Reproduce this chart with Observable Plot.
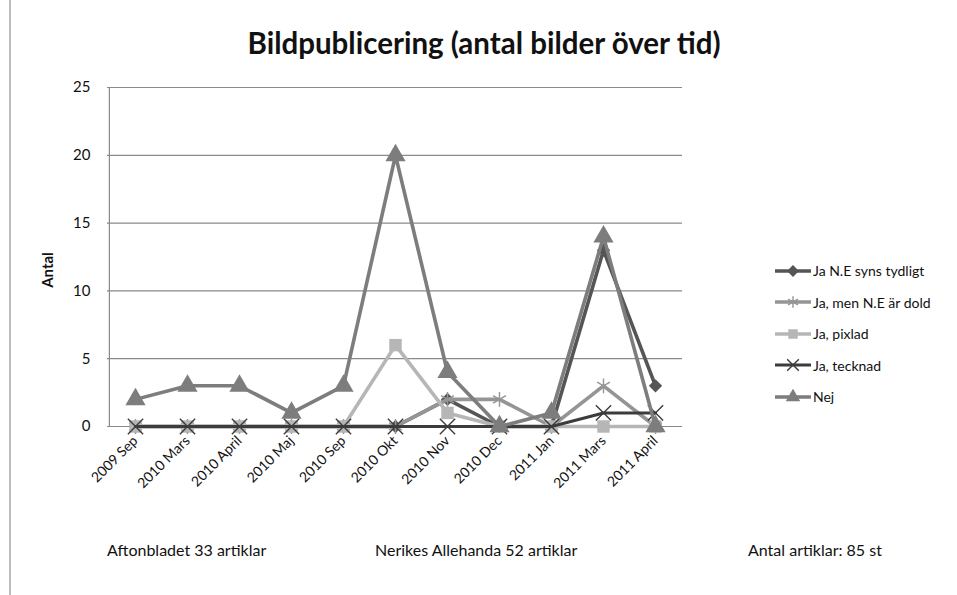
<!DOCTYPE html>
<html>
<head>
<meta charset="utf-8">
<script src="https://cdn.jsdelivr.net/npm/d3@7"></script>
<script src="https://cdn.jsdelivr.net/npm/@observablehq/plot@0.6"></script>
<style>
  html, body { margin: 0; padding: 0; background: #fff; }
  #wrap { position: relative; width: 957px; height: 595px; overflow: hidden; font-family: Lato, "Open Sans", sans-serif; }
  #border { position: absolute; left: 9px; top: 0; width: 2px; height: 595px; background: #bdbdbd; }
  #title { position: absolute; left: 0; width: 968px; top: 25px; text-align: center; font-weight: bold; font-size: 29.5px; color: #111; }
  #ylabel { position: absolute; left: 47px; top: 270px; transform: translate(-50%, -50%) rotate(-90deg); font-weight: bold; font-size: 15px; color: #111; }
  .foot { position: absolute; top: 540px; font-size: 16px; color: #111; }
  #legend { position: absolute; left: 775px; top: 255px; font-size: 14px; color: #111; }
  .li { display: flex; align-items: center; height: 31.5px; }
  .li svg { margin-right: 2px; }
</style>
</head>
<body>
<div id="wrap">
  <div id="border"></div>
  <div id="chart"></div>
  <div id="title">Bildpublicering (antal bilder över tid)</div>
  <div id="ylabel">Antal</div>
  <div id="legend"></div>
  <div class="foot" style="left:107px">Aftonbladet 33 artiklar</div>
  <div class="foot" style="left:375px">Nerikes Allehanda 52 artiklar</div>
  <div class="foot" style="left:748px">Antal artiklar: 85 st</div>
</div>
<script>
const categories = ["2009 Sep","2010 Mars","2010 April","2010 Maj","2010 Sep","2010 Okt","2010 Nov","2010 Dec","2011 Jan","2011 Mars","2011 April"];
const seriesNames = ["Ja N.E syns tydligt","Ja, men N.E är dold","Ja, pixlad","Ja, tecknad","Nej"];
const jaSyns    = [0,0,0,0,0,0,2,0,0,13,3];
const jaDold    = [0,0,0,0,0,0,2,2,0,3,0];
const jaPixlad  = [0,0,0,0,0,6,1,0,0,0,0];
const jaTecknad = [0,0,0,0,0,0,0,0,0,1,1];
const nej       = [2,3,3,1,3,20,4,0,1,14,0];
const yTicks = [0,5,10,15,20,25];

const seriesColors = ["#555555","#959595","#b6b6b6","#3c3c3c","#7d7d7d"];
const seriesSymbols = ["diamond2","asterisk","square","times","triangle"];
const seriesFilled = [true,false,true,false,true];
const lineWidths = [3.6,3.6,3.6,3,3.6];
const symbolR = [6,7,7,7,7.5];

const allValues = [jaSyns, jaDold, jaPixlad, jaTecknad, nej];
const data = [];
seriesNames.forEach((s, i) => {
  categories.forEach((c, j) => data.push({series: s, cat: c, value: allValues[i][j]}));
});

const marks = [
  Plot.ruleY(yTicks, {stroke: "#8a8a8a", strokeWidth: 1.2})
];
seriesNames.forEach((s, i) => {
  const d = data.filter(r => r.series === s);
  marks.push(Plot.line(d, {x: "cat", y: "value", stroke: seriesColors[i], strokeWidth: lineWidths[i], curve: "linear"}));
  if (seriesFilled[i]) {
    marks.push(Plot.dot(d, {x: "cat", y: "value", symbol: () => seriesSymbols[i], fill: seriesColors[i], stroke: "none", r: symbolR[i]}));
  } else {
    marks.push(Plot.dot(d, {x: "cat", y: "value", symbol: () => seriesSymbols[i], stroke: seriesColors[i], strokeWidth: 1.4, fill: "none", r: symbolR[i]}));
  }
});

const chart = Plot.plot({
  width: 957,
  height: 595,
  marginLeft: 107,
  marginRight: 275,
  marginTop: 87,
  marginBottom: 169,
  style: {fontFamily: "Lato, sans-serif", fontSize: "14px", color: "#111", background: "transparent"},
  x: {type: "point", domain: categories, padding: 0.5, label: null},
  y: {domain: [0, 25], label: null},
  symbol: {type: "identity"},
  marks: [
    ...marks,
    Plot.axisY({ticks: yTicks, tickSize: 0, tickPadding: 17, fontSize: 15, label: null}),
    Plot.axisX({tickSize: 0, tickRotate: -45, tickPadding: 12, fontSize: 14, label: null}),
    Plot.ruleX([categories[0]], {dx: -26.1, y1: 0, y2: 25, stroke: "#8a8a8a", strokeWidth: 1.2})
  ]
});
document.getElementById("chart").appendChild(chart);

// legend
const legend = document.getElementById("legend");
const symMap = {diamond2: d3.symbolDiamond2, asterisk: d3.symbolAsterisk, square: d3.symbolSquare, times: d3.symbolTimes, triangle: d3.symbolTriangle};
seriesNames.forEach((s, i) => {
  const row = document.createElement("div");
  row.className = "li";
  const svg = d3.create("svg").attr("width", 36).attr("height", 16);
  svg.append("line").attr("x1", 0).attr("x2", 36).attr("y1", 8).attr("y2", 8).attr("stroke", seriesColors[i]).attr("stroke-width", lineWidths[i]);
  const p = svg.append("path").attr("transform", "translate(18,8)").attr("d", d3.symbol(symMap[seriesSymbols[i]], 90)());
  if (seriesFilled[i]) p.attr("fill", seriesColors[i]);
  else p.attr("fill", "none").attr("stroke", seriesColors[i]).attr("stroke-width", 1.4);
  row.appendChild(svg.node());
  const t = document.createElement("span");
  t.textContent = s;
  row.appendChild(t);
  legend.appendChild(row);
});
</script>
</body>
</html>
